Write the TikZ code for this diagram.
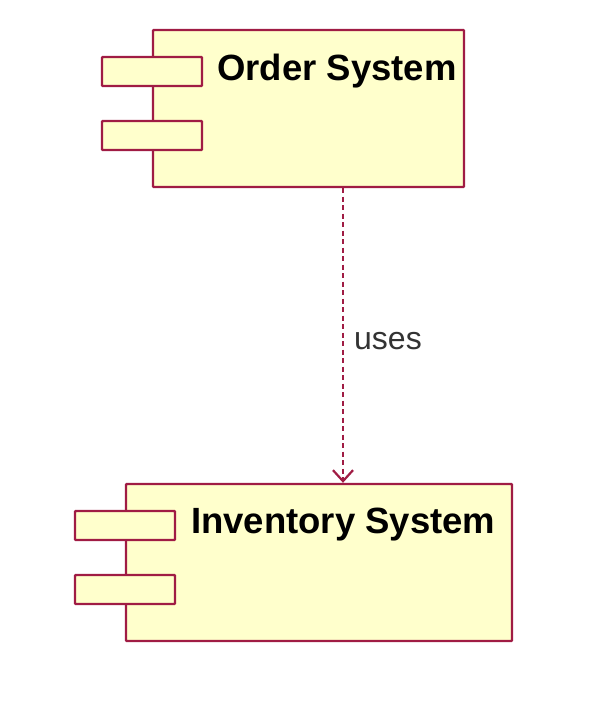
\documentclass[tikz,border=0pt]{standalone}
\usepackage{fontspec}
\setmainfont{Liberation Sans}
\usetikzlibrary{arrows.meta}
\definecolor{umlline}{RGB}{160,28,68}
\definecolor{umlfill}{RGB}{255,255,204}
\begin{document}
\begin{tikzpicture}[x=1pt,y=-1pt,
  comp/.style={draw=umlline,fill=umlfill,line width=2.4pt,minimum height=157pt,inner sep=0pt,rounded corners=0.8pt},
  port/.style={draw=umlline,fill=umlfill,line width=2.4pt,minimum width=100pt,minimum height=29pt,inner sep=0pt,rounded corners=0.8pt},
  title/.style={anchor=base west,inner sep=0pt,font=\fontsize{36.5}{40}\selectfont\bfseries},
  dep/.style={draw=umlline,line width=2.6pt,dash pattern=on 5pt off 3.5pt,-{Straight Barb[length=11pt,width=20pt,line width=2.2pt]}},
  lbl/.style={anchor=base west,inner sep=0pt,text=black!80,font=\fontsize{32}{36}\selectfont}]
\useasboundingbox (0,0) rectangle (599,705);
% Order System
\node[comp,minimum width=311pt] (order) at (308.5,108.5) {};
\node[port] (op1) at (152,71.5) {};
\node[port] (op2) at (152,135.5) {};
\node[title] (ot) at (217,80) {Order System};
% Inventory System
\node[comp,minimum width=386pt] (inv) at (319,562.5) {};
\node[port] (ip1) at (125,525.5) {};
\node[port] (ip2) at (125,589.5) {};
\node[title] (it) at (191,533) {Inventory System};
% dependency
\coordinate (ax) at (343,0);
\draw[dep] (order.south -| ax) -- (inv.north -| ax);
\node[lbl] (uses) at (354,349) {uses};
\end{tikzpicture}
\end{document}
